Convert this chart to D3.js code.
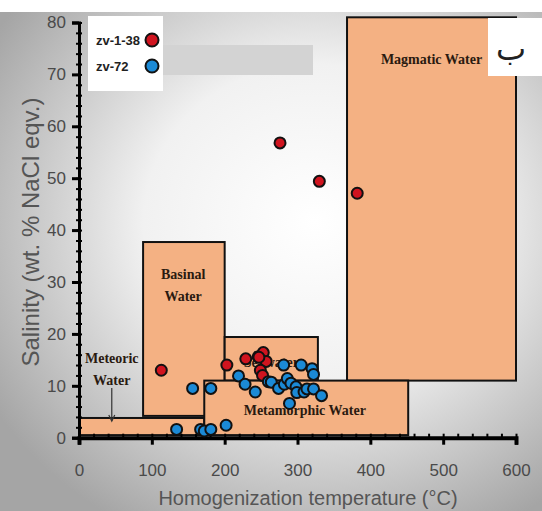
<!DOCTYPE html>
<html>
<head>
<meta charset="utf-8">
<script src="https://cdn.jsdelivr.net/npm/d3@7"></script>
<style>
  body { margin: 0; background: #fff; }
  .tick text { font-family: "Liberation Sans Narrow", "Liberation Sans", Arial, sans-serif; }
</style>
</head>
<body>
<div id="chart"></div>
<script>
var W = 542, H = 511;

// zones: [name, xmin, xmax, ymin, ymax]
var zoneNames = ["Magmatic Water", "Basinal Water", "Seawater", "Meteoric Water", "Metamorphic Water"];
var zoneX = [[368, 600], [88, 200], [200, 328], [0, 172], [172, 452]];
var zoneY = [[11, 81], [4.2, 37.7], [11, 19.4], [0.5, 3.8], [0.5, 11]];

var seriesNames = ["zv-1-38", "zv-72"];
var redT = [113, 203, 229, 246, 253, 257, 249, 252, 247, 276, 330, 382];
var redS = [13, 14, 15.2, 15.6, 16.4, 14.7, 13, 12, 15.5, 56.8, 49.4, 47.1];
var blueT = [134, 167, 172, 181, 202, 156, 181, 219, 228, 242, 260, 264, 274, 281, 282, 286, 291, 298, 299, 305, 309, 313, 320, 322, 322, 333, 289];
var blueS = [1.6, 1.6, 1.3, 1.6, 2.4, 9.5, 9.5, 11.9, 10.3, 8.8, 10.8, 10.7, 9.5, 14, 10.3, 11.4, 10.5, 9.8, 8.7, 14, 8.8, 9.4, 13.3, 12.2, 9.4, 8.1, 6.6];

var xTicks = [0, 100, 200, 300, 400, 500, 600];
var yTicks = [0, 10, 20, 30, 40, 50, 60, 70, 80];

var x = d3.scaleLinear().domain([0, 600]).range([79, 516]);
var y = d3.scaleLinear().domain([0, 80]).range([437.7, 22.5]);

var svg = d3.select("#chart").append("svg")
    .attr("width", W).attr("height", H);

var defs = svg.append("defs");
var bg = defs.append("radialGradient").attr("id", "bg")
    .attr("cx", "58%").attr("cy", "42%").attr("r", "70%");
bg.append("stop").attr("offset", "0%").attr("stop-color", "#ffffff");
bg.append("stop").attr("offset", "45%").attr("stop-color", "#f1f1f1");
bg.append("stop").attr("offset", "100%").attr("stop-color", "#a5a5a5");

svg.append("rect").attr("width", W).attr("height", H).attr("fill", "#fff");
svg.append("rect").attr("x", 0).attr("y", 12).attr("width", W).attr("height", H - 12)
    .attr("fill", "url(#bg)");

// grey band behind the legend
svg.append("rect")
    .attr("x", 163).attr("y", 45).attr("width", 150).attr("height", 30)
    .attr("fill", "#d3d3d3");

// zones
var zones = svg.append("g");
zoneNames.forEach(function(n, i) {
  zones.append("rect")
      .attr("x", x(zoneX[i][0]))
      .attr("y", y(zoneY[i][1]))
      .attr("width", x(zoneX[i][1]) - x(zoneX[i][0]))
      .attr("height", y(zoneY[i][0]) - y(zoneY[i][1]))
      .attr("fill", "#f4b183")
      .attr("stroke", "#111")
      .attr("stroke-width", 2);
});

var labelFont = "'Liberation Serif', 'Times New Roman', serif";
function zoneLabel(lines, tx, sy) {
  var t = svg.append("text")
      .attr("x", x(tx)).attr("y", y(sy))
      .attr("text-anchor", "middle")
      .attr("font-family", labelFont)
      .attr("font-weight", "bold")
      .attr("font-size", 14)
      .attr("fill", "#2a1a10");
  lines.forEach(function(l, i) {
    t.append("tspan").attr("x", x(tx)).attr("dy", i ? 22 : 0).text(l);
  });
}
zoneLabel(["Magmatic Water"], 484, 72);
zoneLabel(["Basinal", "Water"], 143, 30.5);
zoneLabel(["Seawater"], 264, 13.6);
zoneLabel(["Meteoric", "Water"], 45, 14.3);
zoneLabel(["Metamorphic Water"], 310, 4.4);

// arrow for meteoric water
svg.append("line")
    .attr("x1", x(45)).attr("x2", x(45))
    .attr("y1", y(9.6)).attr("y2", y(3.2))
    .attr("stroke", "#333").attr("stroke-width", 1.2);
svg.append("path")
    .attr("d", "M" + (x(45) - 3) + "," + (y(3.2) - 6) + "L" + x(45) + "," + y(3.2) + "L" + (x(45) + 3) + "," + (y(3.2) - 6))
    .attr("fill", "none").attr("stroke", "#333").attr("stroke-width", 1.2);

// axes
var axisColor = "#4a4a4a";
var yAxis = svg.append("g").attr("transform", "translate(" + x(0) + ",0)")
    .call(d3.axisLeft(y).tickValues(yTicks).tickSize(7).tickPadding(6));
yAxis.select(".domain").attr("stroke", "#000").attr("stroke-width", 3);
yAxis.selectAll(".tick line").attr("stroke", "#000").attr("stroke-width", 3);
yAxis.selectAll(".tick text").attr("font-size", 17).attr("fill", axisColor);

var yMinor = svg.append("g").attr("transform", "translate(" + (x(0) + 3) + ",0)")
    .call(d3.axisLeft(y).tickValues(d3.range(0, 81, 2)).tickSize(6).tickFormat(""));
yMinor.select(".domain").remove();
yMinor.selectAll(".tick line").attr("stroke", "#000").attr("stroke-width", 2);

var xAxis = svg.append("g").attr("transform", "translate(0," + y(0) + ")")
    .call(d3.axisBottom(x).tickValues(xTicks).tickSize(7).tickPadding(19));
xAxis.select(".domain").attr("stroke", "#000").attr("stroke-width", 4);
xAxis.selectAll(".tick line").attr("stroke", "#000").attr("stroke-width", 3);
xAxis.selectAll(".tick text").attr("font-size", 17).attr("fill", axisColor);

var xMinor = svg.append("g").attr("transform", "translate(0," + (y(0) + 1) + ")")
    .call(d3.axisTop(x).tickValues(d3.range(0, 601, 20)).tickSize(5).tickFormat(""));
xMinor.select(".domain").remove();
xMinor.selectAll(".tick line").attr("stroke", "#000").attr("stroke-width", 2);

// axis titles
svg.append("text")
    .attr("transform", "translate(39,232) rotate(-90)")
    .attr("text-anchor", "middle")
    .attr("font-family", "'Liberation Sans', Arial, sans-serif")
    .attr("font-size", 24)
    .attr("fill", "#555")
    .text("Salinity (wt. % NaCl eqv.)");

svg.append("text")
    .attr("x", 308).attr("y", 505)
    .attr("text-anchor", "middle")
    .attr("font-family", "'Liberation Sans', Arial, sans-serif")
    .attr("font-size", 20)
    .attr("fill", "#555")
    .text("Homogenization temperature (\u00B0C)");

// points
function dots(ts, ss, color) {
  svg.append("g").selectAll("circle")
      .data(ts)
      .enter().append("circle")
      .attr("cx", function(d) { return x(d); })
      .attr("cy", function(d, i) { return y(ss[i]); })
      .attr("r", 5.5)
      .attr("fill", color)
      .attr("stroke", "#111")
      .attr("stroke-width", 2);
}
dots(redT, redS, "#d0141f");
dots(blueT, blueS, "#1b8ad6");

// legend
var leg = svg.append("g");
leg.append("rect").attr("x", 88).attr("y", 16).attr("width", 75).attr("height", 75).attr("fill", "#fff");
[["#d0141f", 40], ["#1b8ad6", 66]].forEach(function(c, i) {
  leg.append("text")
      .attr("x", 96).attr("y", c[1] + 5)
      .attr("font-family", "'Liberation Sans Narrow', 'Liberation Sans', Arial, sans-serif")
      .attr("font-weight", "bold")
      .attr("font-size", 13)
      .attr("fill", "#222")
      .text(seriesNames[i]);
  leg.append("circle")
      .attr("cx", 152).attr("cy", c[1]).attr("r", 6.5)
      .attr("fill", c[0]).attr("stroke", "#111").attr("stroke-width", 2);
});

// arabic panel letter
svg.append("rect").attr("x", 488).attr("y", 18).attr("width", 54).attr("height", 58).attr("fill", "#fff");
svg.append("text")
    .attr("x", 511).attr("y", 60)
    .attr("text-anchor", "middle")
    .attr("font-family", "'DejaVu Sans', 'Noto Sans', sans-serif")
    .attr("font-size", 32)
    .attr("fill", "#222")
    .text("ب");
</script>
</body>
</html>
